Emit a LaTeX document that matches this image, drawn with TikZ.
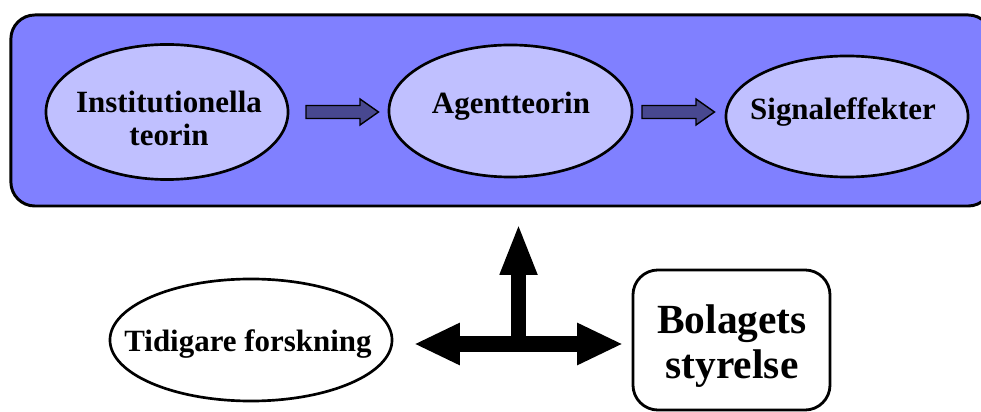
\documentclass[tikz,border=0pt]{standalone}
\usepackage{fontspec}
\setmainfont{Liberation Serif}
\usepackage{tikz}
\usetikzlibrary{arrows.meta,shapes.geometric}

\definecolor{boxblue}{RGB}{128,128,255}
\definecolor{ellblue}{RGB}{192,192,255}
\definecolor{arrblue}{RGB}{72,72,144}

\tikzset{
  mainbox/.style={draw, line width=2.1pt, fill=boxblue, rounded corners=0.6cm,
    minimum width=24.525cm, minimum height=4.775cm, inner sep=0pt},
  theory/.style={draw, ellipse, line width=1.9pt, fill=ellblue, inner sep=0pt},
  plainell/.style={draw, ellipse, line width=1.9pt, fill=white, inner sep=0pt},
  board/.style={draw, line width=2pt, fill=white, rounded corners=0.625cm,
    minimum width=4.925cm, minimum height=3.5cm, inner sep=0pt},
  txt/.style={font=\fontsize{22}{23.4}\selectfont\bfseries, align=center, inner sep=0pt},
  bigtxt/.style={font=\fontsize{29.5}{32}\selectfont\bfseries, align=center, inner sep=0pt},
  blockarrow/.style={draw, line width=1pt, fill=arrblue, line join=miter},
}

\begin{document}
\begin{tikzpicture}[x=0.025cm, y=-0.025cm]
\useasboundingbox (0,0) rectangle (981,412);
\node[mainbox] (frame) at (501.5,110.5) {};
\node[theory, minimum width=6.05cm, minimum height=3.375cm] (inst) at (167,112) {};
\node[theory, minimum width=6.075cm, minimum height=3.3cm] (agent) at (510.5,111) {};
\node[theory, minimum width=6.05cm, minimum height=3.025cm] (signal) at (847,116.5) {};
\node[txt] (insttext) at (169,118) {Institutionella\\teorin};
\node[txt, anchor=base] (agenttext) at (511,114) {Agentteorin};
\node[txt, anchor=base] (signaltext) at (843,120) {Signaleffekter};
% small arrows between the theories
\foreach \s in {306,642}
  \draw[blockarrow] (\s,105.5) -- ++(54,0) -- ++(0,-6.5) -- ++(18.5,13)
    -- ++(-18.5,13) -- ++(0,-6.5) -- ++(-54,0) -- cycle;
\node[plainell, minimum width=7.05cm, minimum height=3.05cm] (earlier) at (251,340) {};
\node[txt, anchor=base] (earliertext) at (248,352) {Tidigare forskning};
\node[board] (styr) at (731.5,340) {};
\node[bigtxt] (styrtext) at (732,346) {Bolagets\\styrelse};
% the big black arrow
\coordinate (hub) at (518.5,344);
\coordinate (lefttip) at (414,344);
\coordinate (righttip) at (623,344);
\coordinate (uptip) at (518.5,223);
\draw[line width=11.3pt, {Triangle[length=32.6pt, width=27.7pt]}-{Triangle[length=32.6pt, width=27.7pt]}] (lefttip) -- (righttip);
\draw[line width=10.6pt, -{Triangle[length=36.9pt, width=24.1pt]}] (hub) -- (uptip);
\end{tikzpicture}
\end{document}
